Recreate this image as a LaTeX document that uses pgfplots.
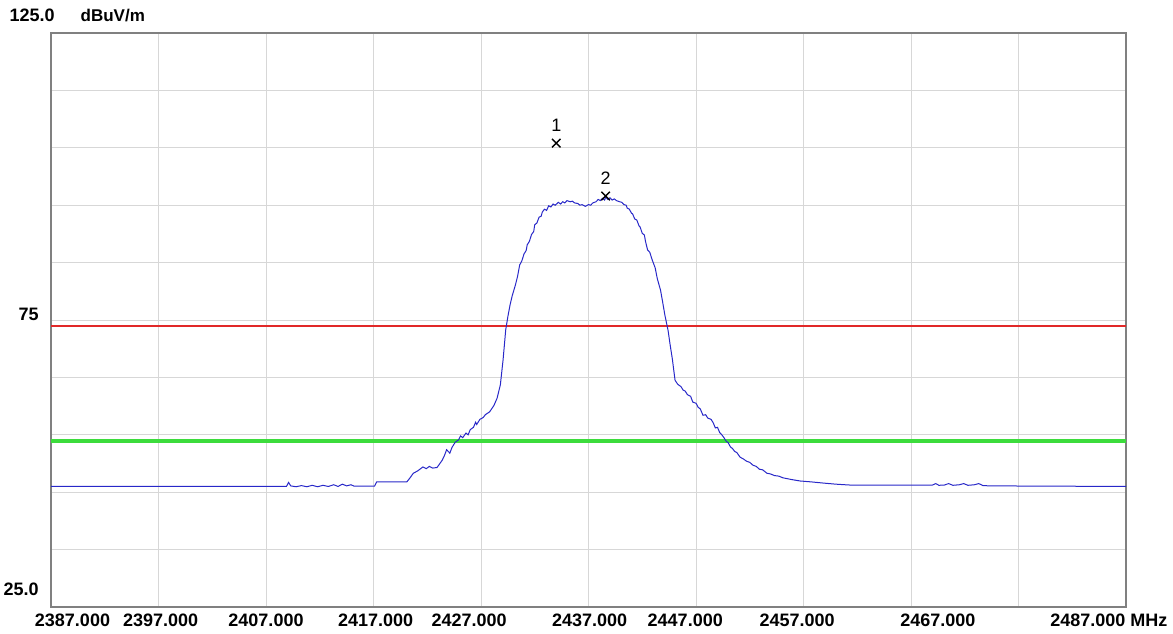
\documentclass[border=0pt]{standalone}
\usepackage{pgfplots}
\pgfplotsset{compat=1.18}
\usepackage{fontspec}
\setmainfont{Liberation Sans}
\definecolor{frame}{RGB}{128,128,128}
\definecolor{gridc}{RGB}{215,215,215}
\definecolor{lim1}{RGB}{225,40,40}
\definecolor{lim2}{RGB}{60,220,60}
\definecolor{trace}{RGB}{40,40,200}
\begin{document}
\begin{tikzpicture}
\begin{axis}[name=ax,
  scale only axis, width=537.5pt, height=287pt,
  xmin=2387, xmax=2487, ymin=25, ymax=125,
  xtick={2387,2397,...,2487}, ytick={25,35,...,125},
  xticklabels={}, yticklabels={},
  major tick length=0pt,
  grid=major, grid style={gridc, line width=0.5pt},
  axis line style={frame, line width=1pt},
  clip=false,
  font=\fontsize{9}{10}\selectfont\bfseries]
\addplot[lim1, line width=1pt] coordinates {(2387,74) (2487,74)};
\addplot[lim2, line width=2pt] coordinates {(2387,54) (2487,54)};
\addplot[trace, line width=0.5pt] coordinates {
(2387,46.0) (2408.9,46.0) (2409.1,46.7) (2409.3,46.1) (2409.8,45.95) (2410.3,46.15) (2410.8,45.95)
(2411.3,46.2) (2411.8,45.95) (2412.3,46.2) (2412.8,46.0) (2413.3,46.3) (2413.7,46.0) (2414.1,46.4)
(2414.5,46.1) (2414.9,46.3) (2415.2,46.05) (2416.0,46.05) (2417.1,46.05)
(2417.3,46.8) (2420.1,46.8) (2420.4,47.5) (2420.7,48.3) (2421.1,48.7) (2421.6,49.4) (2421.9,49.1)
(2422.2,49.5) (2422.5,49.2) (2422.9,49.3) (2423.1,49.8) (2423.4,50.6) (2423.6,51.4) (2423.8,52.4)
(2424.1,51.8) (2424.3,52.8) (2424.6,53.7) (2424.9,54.1) (2425.1,54.8) (2425.3,54.5) (2425.6,55.3)
(2425.8,55.0) (2426.0,55.9) (2426.3,56.3) (2426.5,57.2) (2426.6,56.8) (2426.9,57.7) (2427.2,58.0)
(2427.4,58.5) (2427.8,59.0) (2428.2,60.1) (2428.5,61.4)
(2428.8,63.7) (2429.05,68.0) (2429.3,73.3) (2429.5,75.6) (2429.7,77.6) (2429.9,79.2) (2430.2,81.1)
(2430.4,82.6) (2430.6,84.6) (2430.8,85.3) (2431.0,86.5) (2431.2,87.1) (2431.3,88.1) (2431.5,88.7)
(2431.7,89.9) (2431.9,90.4) (2432.0,91.6) (2432.2,91.9) (2432.4,92.9) (2432.6,93.1) (2432.7,93.8)
(2432.9,94.3) (2433.1,94.1) (2433.3,94.9) (2433.5,94.7) (2433.7,95.2) (2433.9,95.0) (2434.2,95.5)
(2434.4,95.2) (2434.6,95.6) (2434.8,95.4) (2435.0,95.8) (2435.3,95.6) (2435.5,95.7) (2435.7,95.4)
(2436.0,95.3) (2436.2,95.0) (2436.4,95.1) (2436.7,94.8) (2437.0,95.1) (2437.2,95.0) (2437.4,95.4)
(2437.7,95.6) (2437.9,96.0) (2438.1,95.8) (2438.3,96.2) (2438.5,95.9) (2438.6,96.4) (2438.8,96.0)
(2439.0,96.3) (2439.2,95.9) (2439.4,96.1) (2439.6,95.8) (2439.9,95.6) (2440.1,95.5) (2440.3,95.1)
(2440.5,95.0) (2440.6,94.5) (2440.8,94.3) (2441.0,93.6) (2441.1,93.5) (2441.3,92.6) (2441.5,92.4)
(2441.7,91.4) (2441.8,91.2) (2442.0,90.1) (2442.2,89.8) (2442.3,88.7) (2442.5,87.2) (2442.7,86.8)
(2442.9,85.6) (2443.2,84.1)
(2443.4,82.2) (2443.7,80.2) (2443.9,78.1) (2444.1,75.9) (2444.4,73.2) (2444.6,70.6) (2444.8,68.2)
(2445.05,64.5) (2445.3,63.8) (2445.6,63.4) (2445.8,62.8) (2446.0,62.6) (2446.2,62.0) (2446.5,61.7)
(2446.7,60.7) (2447.0,60.5) (2447.2,59.8) (2447.4,59.5) (2447.65,58.4) (2447.9,58.5) (2448.1,57.9)
(2448.4,57.7) (2448.6,57.1) (2448.8,56.2) (2449.0,56.3) (2449.2,55.4) (2449.4,55.0) (2449.6,54.5)
(2449.8,53.9) (2450.0,53.6) (2450.2,52.9) (2450.4,52.6) (2450.6,52.1) (2450.8,51.9)
(2451.1,51.1) (2451.4,50.8) (2451.7,50.4) (2452.0,50.2) (2452.3,49.7) (2452.6,49.5) (2452.9,49.0)
(2453.2,48.9) (2453.6,48.3) (2453.9,48.2) (2454.3,47.9) (2454.7,47.8) (2455.1,47.5)
(2455.9,47.2) (2456.7,46.95) (2457.7,46.8) (2458.8,46.6) (2460.0,46.4) (2461.3,46.25) (2469.0,46.25)
(2469.3,46.5) (2469.6,46.2) (2470.1,46.25) (2470.5,46.5) (2470.9,46.2) (2471.5,46.3) (2471.9,46.5)
(2472.3,46.2) (2472.9,46.3) (2473.3,46.5) (2473.7,46.15) (2474.4,46.1) (2487,46.0)};
\addplot[only marks, mark=x, mark size=3pt, black, line width=0.7pt] coordinates {(2434.0,105.8) (2438.6,96.6)};
\node[font=\fontsize{9}{10}\selectfont, anchor=south] at (axis cs:2434.0,106.6) {1};
\node[font=\fontsize{9}{10}\selectfont, anchor=south] at (axis cs:2438.6,97.4) {2};
\node[anchor=east] at (axis cs:2388.0,128.1) {125.0};
\node[anchor=west, font=\fontsize{8.5}{10}\selectfont\bfseries] at (axis cs:2389.1,128.1) {dBuV/m};
\node[anchor=east] at (axis cs:2386.5,75.9) {75};
\node[anchor=east] at (axis cs:2386.5,28.0) {25.0};
\node at (axis cs:2389.0,22.7) {2387.000};
\node at (axis cs:2397.2,22.7) {2397.000};
\node at (axis cs:2407.0,22.7) {2407.000};
\node at (axis cs:2417.2,22.7) {2417.000};
\node at (axis cs:2425.9,22.7) {2427.000};
\node at (axis cs:2437.1,22.7) {2437.000};
\node at (axis cs:2446.0,22.7) {2447.000};
\node at (axis cs:2456.4,22.7) {2457.000};
\node at (axis cs:2469.5,22.7) {2467.000};
\node[anchor=west] at (axis cs:2479.3,22.7) {2487.000 MHz};
\end{axis}
\pgfresetboundingbox
\path ([xshift=-25.5pt,yshift=-13pt]ax.south west) rectangle ([xshift=23.5pt,yshift=16.5pt]ax.north east);
\end{tikzpicture}
\end{document}
